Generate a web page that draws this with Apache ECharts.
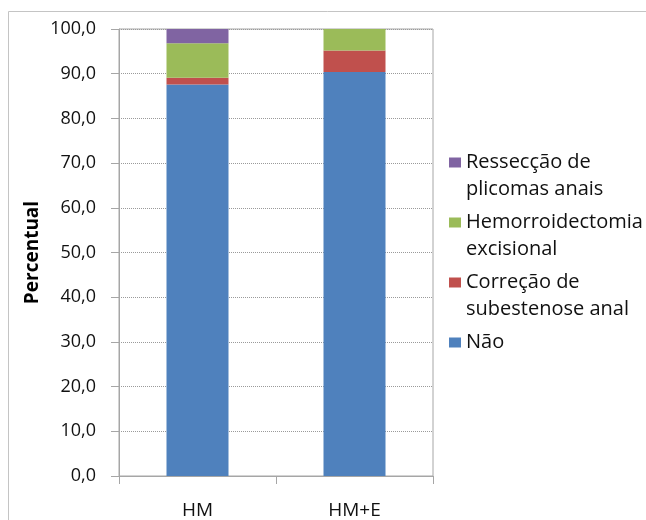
<!DOCTYPE html>
<html>
<head>
<meta charset="utf-8">
<script src="https://cdn.jsdelivr.net/npm/echarts@6/dist/echarts.min.js"></script>
<style>
  html, body { margin: 0; padding: 0; background: #ffffff; }
  #chart { width: 646px; height: 520px; }
</style>
</head>
<body>
<div id="chart"></div>
<script>
// Procedure groups
var categories = ['HM', 'HM+E'];

// Percent of patients per complementary procedure (stacked to 100)
var nao = [87.6, 90.4];
var correcaoSubestenose = [1.5, 4.8];
var hemorroidectomia = [7.7, 4.8];
var resseccaoPlicomas = [3.2, 0];

var yTicks = { min: 0, max: 100, interval: 10 };

var seriesNames = [
  'Não',
  'Correção de\nsubestenose anal',
  'Hemorroidectomia\nexcisional',
  'Ressecção de\nplicomas anais'
];
var seriesValues = [nao, correcaoSubestenose, hemorroidectomia, resseccaoPlicomas];
var seriesColors = ['#4F81BD', '#C0504D', '#9BBB59', '#8064A2'];

var FONT = '"Open Sans", "Noto Sans", sans-serif';
var AXIS_GREY = '#a6a6a6';
var TEXT = '#111111';

var chart = echarts.init(document.getElementById('chart'), null, { renderer: 'canvas' });

var series = seriesNames.map(function (name, i) {
  return {
    name: name,
    type: 'bar',
    stack: 'total',
    barWidth: 62,
    data: seriesValues[i],
    itemStyle: { color: seriesColors[i] },
    emphasis: { disabled: true }
  };
});

// Legend entries are laid out as three text lines (blank, first, second) so
// the swatch, which is centred on the text block, sits beside the first line.
function legendLabel(name) {
  var parts = name.split('\n');
  return '\n' + parts[0] + '\n' + (parts[1] || ' ');
}

chart.setOption({
  animation: false,
  backgroundColor: '#ffffff',
  textStyle: { fontFamily: FONT },
  graphic: [{
    type: 'rect',
    silent: true,
    shape: { x: 8.5, y: 11.5, width: 700, height: 600 },
    style: { fill: 'none', stroke: '#c4c4c4', lineWidth: 1 }
  }],
  grid: {
    left: 119, top: 29, width: 314, height: 447,
    show: true, borderColor: AXIS_GREY, borderWidth: 1,
    containLabel: false
  },
  legend: {
    orient: 'vertical',
    left: 449,
    top: 122,
    padding: 0,
    itemWidth: 12,
    itemHeight: 10,
    itemGap: -21,
    icon: 'rect',
    data: seriesNames.slice().reverse(),
    formatter: legendLabel,
    textStyle: {
      fontFamily: FONT,
      fontSize: 20,
      color: TEXT,
      lineHeight: 27
    }
  },
  xAxis: {
    type: 'category',
    data: categories,
    axisLine: { lineStyle: { color: AXIS_GREY } },
    axisTick: { show: true, length: 8, alignWithLabel: false, lineStyle: { color: AXIS_GREY } },
    axisLabel: { margin: 25, fontSize: 19, color: TEXT, fontFamily: FONT }
  },
  yAxis: {
    type: 'value',
    min: yTicks.min,
    max: yTicks.max,
    interval: yTicks.interval,
    name: 'Percentual',
    nameLocation: 'middle',
    nameGap: 77,
    nameTextStyle: { fontSize: 19, fontWeight: 'bold', color: '#000', fontFamily: FONT },
    axisLine: { show: true, lineStyle: { color: AXIS_GREY } },
    axisTick: { show: true, length: 8, lineStyle: { color: AXIS_GREY } },
    axisLabel: {
      margin: 23,
      fontSize: 18,
      color: TEXT,
      fontFamily: FONT,
      formatter: function (v) { return v.toFixed(1).replace('.', ','); }
    },
    splitLine: { show: true, lineStyle: { color: '#9a9a9a', type: [1, 1], width: 1 } }
  },
  series: series
});
</script>
</body>
</html>
